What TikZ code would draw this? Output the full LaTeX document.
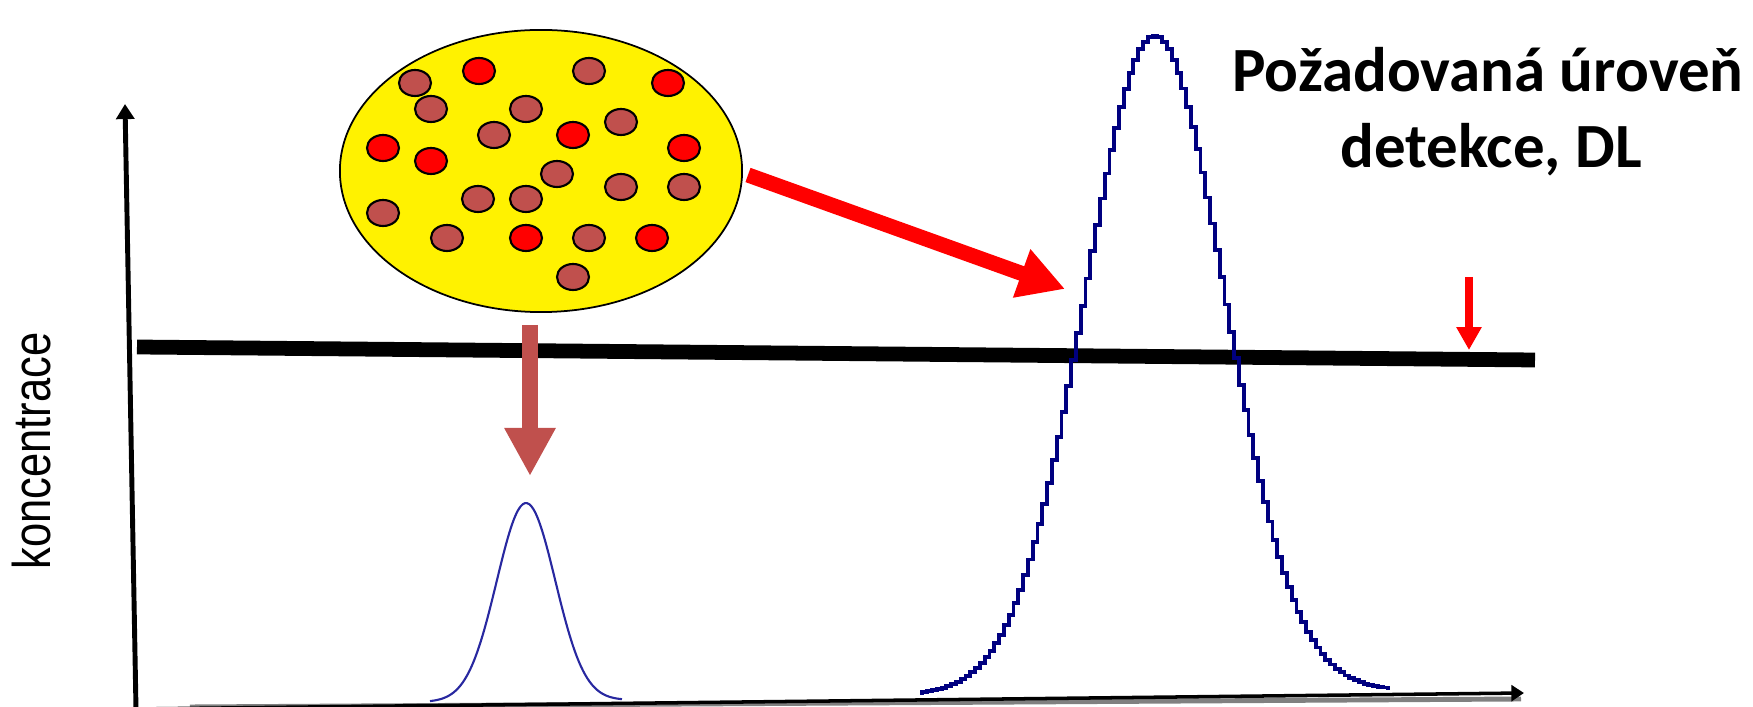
\documentclass[tikz,border=0pt]{standalone}
\usepackage{fontspec}
\usetikzlibrary{arrows.meta,shapes.geometric}
\newfontfamily\axisfont{Liberation Sans}
\newfontfamily\titlefont{Carlito}
\definecolor{dotbrown}{RGB}{192,80,77}
\definecolor{peakblue}{RGB}{0,0,128}
\definecolor{smallblue}{RGB}{40,40,160}
\begin{document}
\begin{tikzpicture}[x=0.01cm,y=-0.01cm,
  dot/.style={ellipse,draw=black,line width=0.6pt,minimum width=0.32cm,minimum height=0.26cm,inner sep=0pt},
  rdot/.style={dot,fill=red},
  bdot/.style={dot,fill=dotbrown},
  title/.style={font=\titlefont\bfseries\fontsize{17.9pt}{21.6pt}\selectfont,inner sep=0pt,anchor=base},
  blockarrow/.style={line width=#1},
]
\useasboundingbox (0,0) rectangle (1753,707);

% axes
\coordinate (o) at (136,709);
\coordinate (ytop) at (125,104);
\coordinate (xend) at (1524,693);
\coordinate (gs) at (190,707);
\coordinate (ge) at (1521,699);
\draw[line width=1.4pt,gray] (gs) -- (ge);
\draw[line width=1.0pt,-{Triangle[width=4.5pt,length=3.6pt]}] (o) -- (xend);
\draw[line width=1.4pt,-{Triangle[width=5.1pt,length=4.3pt]}] (o) -- (ytop);

% detection level line
\coordinate (thl) at (137,347);
\coordinate (thr) at (1535,360);
\draw[line width=4.2pt] (thl) -- (thr);

% peaks
\draw[smallblue,line width=0.6pt] plot[domain=430:622,samples=90,smooth]
  ({\x},{707-0.0101*(\x-136)-2-198*exp(-0.5*((\x-526)/29.3)^2)});
\draw[peakblue,line width=1.1pt] plot[domain=920:1390,samples=99,const plot mark mid]
  ({\x},{707-0.0101*(\x-136)-4-657*exp(-0.5*((\x-1155)/70)^2)});

% sample
\node[ellipse,draw=black,line width=0.5pt,fill=yellow,minimum width=4.02cm,minimum height=2.82cm,inner sep=0pt] (sample) at (541,171) {};
\node[bdot] (b1) at (415,83) {};
\node[bdot] (b2) at (431,109) {};
\node[bdot] (b3) at (589,71) {};
\node[bdot] (b4) at (526,109) {};
\node[bdot] (b5) at (494,135) {};
\node[bdot] (b6) at (621,122) {};
\node[bdot] (b7) at (557,174) {};
\node[bdot] (b8) at (383,213) {};
\node[bdot] (b9) at (478,199) {};
\node[bdot] (b10) at (526,199) {};
\node[bdot] (b11) at (621,187) {};
\node[bdot] (b12) at (684,187) {};
\node[bdot] (b13) at (447,238) {};
\node[bdot] (b14) at (589,238) {};
\node[bdot] (b15) at (573,277) {};
\node[rdot] (r1) at (479,71) {};
\node[rdot] (r2) at (668,83) {};
\node[rdot] (r3) at (573,135) {};
\node[rdot] (r4) at (383,148) {};
\node[rdot] (r5) at (431,161) {};
\node[rdot] (r6) at (684,148) {};
\node[rdot] (r7) at (526,238) {};
\node[rdot] (r8) at (652,238) {};

% arrows
\coordinate (ra) at (748,175);
\coordinate (rb) at (1065,289);
\draw[red,line width=4.3pt,-{Triangle[width=13.7pt,length=13.1pt]}] (ra) -- (rb);
\coordinate (ba) at (530,325);
\coordinate (bb) at (530,476);
\draw[dotbrown,line width=4.55pt,-{Triangle[width=13.7pt,length=13.7pt]}] (ba) -- (bb);
\coordinate (sa) at (1469,277);
\coordinate (sb) at (1469,350);
\draw[red,line width=2.3pt,-{Triangle[width=6.8pt,length=6.5pt]}] (sa) -- (sb);

% texts
\node[font=\axisfont\fontsize{15.1pt}{18pt}\selectfont,rotate=90,inner sep=0pt] (ylab) at (32,451) {\scalebox{0.82}[1]{koncentrace}};
\node[title] (t1) at (1488,92) {Požadovaná úroveň};
\node[title] (t2) at (1491,168) {detekce, DL};
\end{tikzpicture}
\end{document}
